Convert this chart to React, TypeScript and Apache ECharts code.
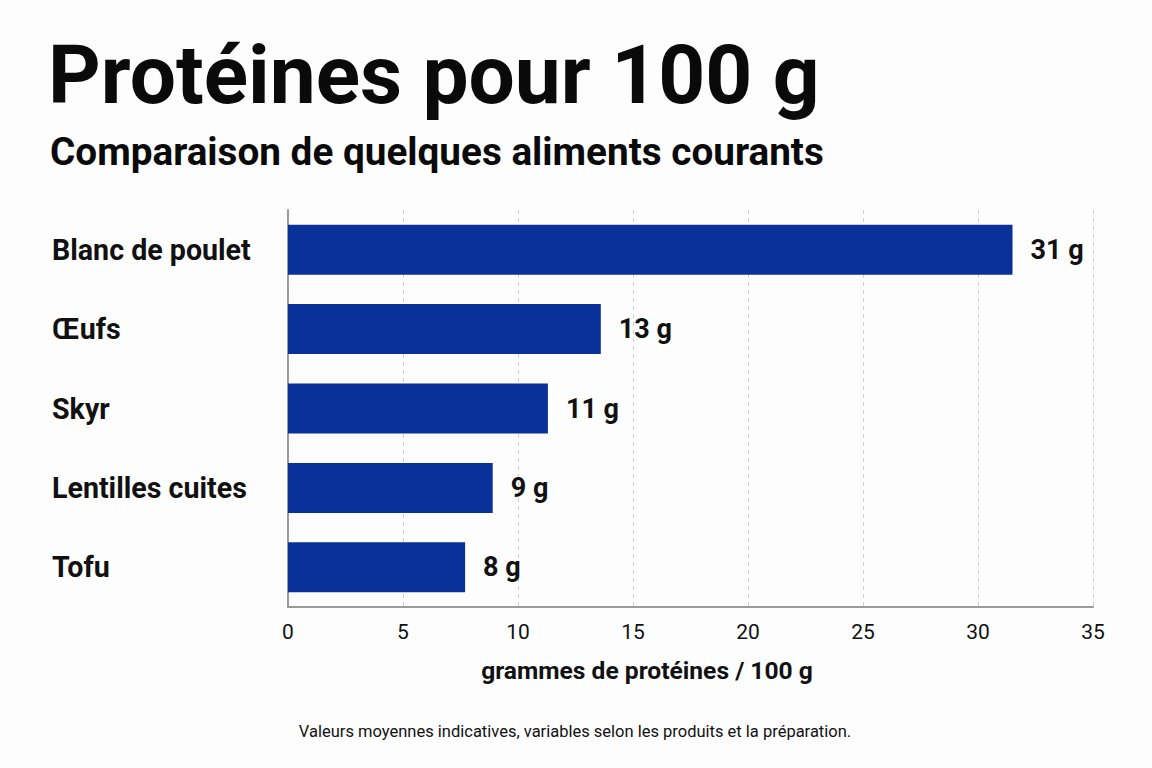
import React, { useEffect, useRef } from "react";
import * as echarts from "echarts";

const categories = ["Blanc de poulet", "Œufs", "Skyr", "Lentilles cuites", "Tofu"];
const barLengths = [31.5, 13.6, 11.3, 8.9, 7.7];
const valueLabels = ["31 g", "13 g", "11 g", "9 g", "8 g"];
const xTicks = [0, 5, 10, 15, 20, 25, 30, 35];

const titleText = "Protéines pour 100 g";
const subtitleText = "Comparaison de quelques aliments courants";
const axisNameText = "grammes de protéines / 100 g";
const footnoteText = "Valeurs moyennes indicatives, variables selon les produits et la préparation.";

export default function App() {
  const ref = useRef<HTMLDivElement>(null);
  useEffect(() => {
    const chart = echarts.init(ref.current!, null, { renderer: "svg" });
    const font = "Roboto, 'Noto Sans', sans-serif";
    chart.setOption({
      animation: false,
      backgroundColor: "#fdfdfd",
      grid: { left: 288, right: 59, top: 210, bottom: 161, containLabel: false },
      xAxis: {
        type: "value",
        min: xTicks[0],
        max: xTicks[xTicks.length - 1],
        interval: 5,
        axisLine: { show: true, lineStyle: { color: "#9a9a9a", width: 2 } },
        axisTick: { show: false },
        axisLabel: { color: "#111", fontSize: 21, fontFamily: font, margin: 14 },
        splitLine: { show: true, lineStyle: { color: "#cfcfcf", type: [4, 4], width: 1 } },
      },
      yAxis: {
        type: "category",
        data: categories,
        inverse: true,
        axisLine: { show: true, lineStyle: { color: "#9a9a9a", width: 2 } },
        axisTick: { show: false },
        axisLabel: {
          color: "#111",
          fontSize: 28.6,
          fontWeight: "bold",
          fontFamily: font,
          align: "left",
          margin: 236,
        },
      },
      series: [
        {
          type: "bar",
          data: barLengths,
          barWidth: 50,
          itemStyle: { color: "#0a3199" },
          label: {
            show: true,
            position: "right",
            distance: 18,
            formatter: (p: any) => valueLabels[p.dataIndex],
            color: "#111",
            fontSize: 27,
            fontWeight: "bold",
            fontFamily: font,
          },
        },
      ],
      graphic: [
        {
          type: "text",
          left: 48,
          top: 34,
          style: { text: titleText, fontSize: 82, fontWeight: "bold", fontFamily: font, fill: "#0a0a0a" },
        },
        {
          type: "text",
          left: 50,
          top: 132,
          style: { text: subtitleText, fontSize: 38.7, fontWeight: "bold", fontFamily: font, fill: "#0a0a0a" },
        },
        {
          type: "text",
          x: 647,
          y: 670,
          style: {
            text: axisNameText,
            fontSize: 24.6,
            fontWeight: "bold",
            fontFamily: font,
            fill: "#111",
            align: "center",
            verticalAlign: "middle",
          },
        },
        {
          type: "text",
          x: 575,
          y: 731,
          style: {
            text: footnoteText,
            fontSize: 16.5,
            fontFamily: font,
            fill: "#111",
            align: "center",
            verticalAlign: "middle",
          },
        },
      ],
    });
    return () => chart.dispose();
  }, []);
  return <div ref={ref} style={{ position: "fixed", left: 0, top: 0, width: 1152, height: 768 }} />;
}
